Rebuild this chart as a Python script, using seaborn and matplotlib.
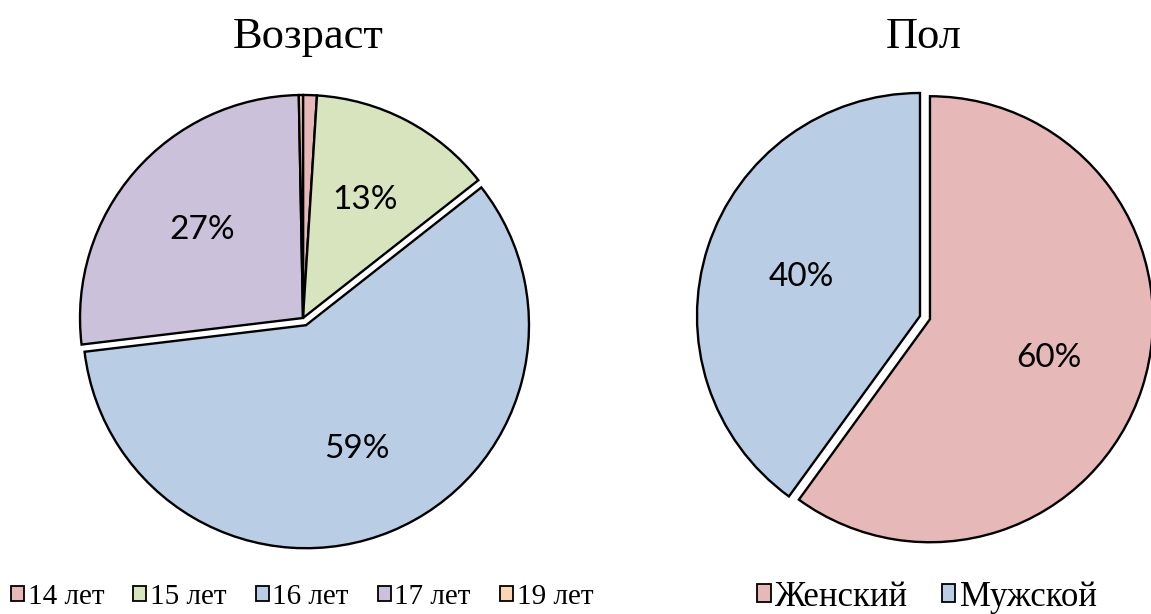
import matplotlib
matplotlib.use("Agg")
import matplotlib.pyplot as plt
import seaborn as sns
from matplotlib.patches import Rectangle

sns.set_theme(style="white")
plt.rcParams['font.family'] = ['Liberation Serif', 'DejaVu Serif']

# ---- data ----
age_labels = ["14 лет", "15 лет", "16 лет", "17 лет", "19 лет"]
age_values = [1.0, 13.4, 58.7, 26.6, 0.3]
age_colors = ["#E6B9B8", "#D7E4BD", "#B9CDE5", "#CCC1DA", "#FCD5B5"]
age_explode = [0, 0, 0.035, 0, 0]

sex_labels = ["Женский", "Мужской"]
sex_values = [60, 40]
sex_colors = ["#E6B9B8", "#B9CDE5"]
sex_explode = [0.047, 0]

titles = ["Возраст", "Пол"]

W, H = 1151, 614
fig = plt.figure(figsize=(W / 100, H / 100), dpi=100)
fig.patch.set_facecolor("white")

LIM = 1.15


def make_ax(cx, cy, r):
    half = LIM * r
    ax = fig.add_axes([(cx - half) / W, (H - cy - half) / H, 2 * half / W, 2 * half / H])
    ax.set_xlim(-LIM, LIM)
    ax.set_ylim(-LIM, LIM)
    ax.set_aspect("equal")
    ax.axis("off")
    return ax


def pct_fmt(p):
    return f"{p:.0f}%" if p >= 3 else ""


def draw_pie(ax, values, colors, explode, pctdist):
    wedges, texts, autotexts = ax.pie(
        values, colors=colors, explode=explode, startangle=90, counterclock=False,
        autopct=pct_fmt, pctdistance=pctdist,
        wedgeprops=dict(edgecolor="black", linewidth=1.7),
        textprops=dict(fontsize=24, family="Lato", color="#000000"),
        frame=False,
    )
    ax.set_xlim(-LIM, LIM)
    ax.set_ylim(-LIM, LIM)
    return wedges


ax1 = make_ax(303, 318, 223)
draw_pie(ax1, age_values, age_colors, age_explode, 0.6)
ax2 = make_ax(920, 316, 223)
draw_pie(ax2, sex_values, sex_colors, sex_explode, 0.56)

fig.text(308 / W, 1 - 37 / H, titles[0], ha="center", va="center", fontsize=32, color="#000000")
fig.text(924 / W, 1 - 37 / H, titles[1], ha="center", va="center", fontsize=32, color="#000000")


def legend(labels, colors, x, fs, hl, cs):
    handles = [Rectangle((0, 0), 1, 1, facecolor=c, edgecolor="black", linewidth=1.3) for c in colors]
    fig.legend(handles, labels, loc="center", bbox_to_anchor=(x / W, 1 - 597 / H),
               ncol=len(labels), frameon=False, fontsize=fs,
               labelcolor="#000000",
               handlelength=hl, handleheight=hl, handletextpad=0.12,
               columnspacing=cs, borderaxespad=0, borderpad=0)


legend(age_labels, age_colors, 302, 21, 0.45, 1.0)
legend(sex_labels, sex_colors, 927, 25, 0.4, 0.95)

fig.savefig("out.png", dpi=100, facecolor="white")
